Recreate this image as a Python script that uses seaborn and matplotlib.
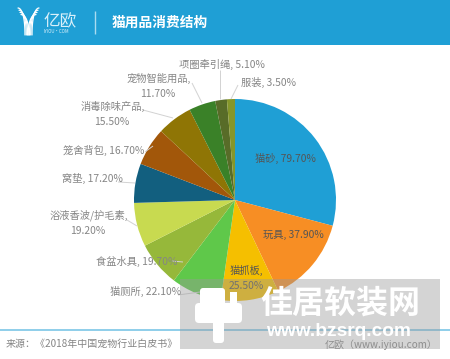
import numpy as np
import pandas as pd
import matplotlib.pyplot as plt
import matplotlib.patches as mp
import seaborn as sns

sns.set_theme(style="white")
plt.rcParams['font.family'] = ['Noto Sans CJK SC', 'DejaVu Sans']

# data
categories = ["猫砂", "玩具", "猫抓板", "猫厕所", "食盆水具", "浴液香波/护毛素", "窝垫", "笼舍背包", "消毒除味产品", "宠物智能用品", "项圈牵引绳", "服装"]
values = [79.7, 37.9, 25.5, 22.1, 19.7, 19.2, 17.2, 16.7, 15.5, 11.7, 5.1, 3.5]
colors = ["#1f9fd5", "#f78e24", "#f5bf00", "#5fc84a", "#96b83a", "#c8da50", "#125f7f", "#a2570a", "#8f7505", "#3a8128", "#586c28", "#85962a"]
title = "猫用品消费结构"
source = "来源：《2018年中国宠物行业白皮书》"
credit = "亿欧（www.iyiou.com）"

df = pd.DataFrame({"cat": categories, "val": values})
H = 359

fig = plt.figure(figsize=(4.5, 3.59), dpi=100, facecolor="white")
ax = fig.add_axes([0, 0, 1, 1])

#pie
ax.pie(df["val"], colors=sns.color_palette(colors), startangle=90, counterclock=False,
       center=(235, H - 200), radius=101, wedgeprops={"linewidth": 0}, frame=False)
ax.set_xlim(0, 450)
ax.set_ylim(0, H)
ax.set_aspect("equal")
ax.axis("off")

def txt(x, y, s, size=7.4, color="#858585", ha="left", **kw):
    ax.text(x, H - y, s, fontsize=size, color=color, ha=ha, va="center", zorder=5, **kw)

def line(xs, ys, color="#d2d2d2", lw=0.7, z=3):
    ax.plot(xs, [H - y for y in ys], color=color, lw=lw, zorder=z, solid_capstyle="butt")

#header
ax.add_patch(mp.Rectangle((0, H - 45), 450, 45, color="#1f9fd5", lw=0, zorder=1))
line([94.5, 94.5], [11, 34], color="#a9dcf0", lw=1)
txt(112, 22.5, title, size=9.9, color="white", fontweight="bold")
txt(43, 22, "亿欧", size=12, color="#d9f0fa")
txt(43.5, 31.5, "IYIOU·COM", size=3.2, color="#d9f0fa")
# logo
t = np.linspace(0, 1, 20)
for i in range(4):
    ys = 8 + i * 2.2
    ye = 35
    xl = 18 + i * 1.0 + (7 + i * 0.3) * np.sin(t * np.pi / 2)
    xr = 39 - i * 1.0 - (7 + i * 0.3) * np.sin(t * np.pi / 2)
    y = ys + (ye - ys) * t ** 2
    ax.plot(xl, H - y, color="white", lw=0.9, zorder=4)
    ax.plot(xr, H - y, color="white", lw=0.9, zorder=4)

# leader lines
line([220, 220], [99, 70])
line([202, 192], [103, 83])
line([231, 238], [99, 85])
line([173, 143], [118, 110])
line([145, 153], [152, 146])
line([118, 135], [182, 183])
line([127, 137], [220, 226])
line([172, 183], [261, 262])
line([178, 200], [295, 292])

# outer labels
txt(179, 64, "项圈牵引绳, 5.10%")
txt(241, 82, "服装, 3.50%")
txt(127, 78, "宠物智能用品,")
txt(158, 94, "11.70%", ha="center")
txt(81, 106, "消毒除味产品,")
txt(112, 122, "15.50%", ha="center")
txt(63, 150, "笼舍背包, 16.70%")
txt(62, 178, "窝垫, 17.20%")
txt(50, 215, "浴液香波/护毛素,")
txt(88, 231, "19.20%", ha="center")
txt(96, 261, "食盆水具, 19.70%")
txt(110, 291, "猫厕所, 22.10%")

# inner labels
txt(255, 158, "猫砂, 79.70%", color="#555555")
txt(263, 235, "玩具, 37.90%", color="#555555")
txt(230, 270, "猫抓板,", color="#555555")
txt(246, 286, "25.50%", ha="center", color="#555555")

# footer
line([0, 450], [330, 330], color="#7cc6e6", lw=1.2)
txt(6, 344, source, size=7.2)
txt(438, 345, credit, size=7.2, ha="right")

# watermark
ax.add_patch(mp.Rectangle((180, H - 349), 260, 70, color="#999999", alpha=0.42, lw=0, zorder=6))
ax.add_patch(mp.FancyBboxPatch((195, H - 323), 47, 20, boxstyle="round,pad=0,rounding_size=4", color="white", lw=0, zorder=7))
ax.add_patch(mp.FancyBboxPatch((213, H - 343), 11, 24, boxstyle="round,pad=0,rounding_size=3", color="white", lw=0, zorder=7))
ax.add_patch(mp.FancyBboxPatch((200, H - 308), 25, 20, boxstyle="round,pad=0,rounding_size=3", color="white", lw=0, zorder=7))
ax.add_patch(mp.Rectangle((230, H - 308), 7, 16, color="white", lw=0, zorder=7))
ax.text(340, H - 304, "佳居软装网", fontsize=23, color="white", fontweight="bold", ha="center", va="center", zorder=7)
ax.text(339, H - 331, "www.bzsrq.com", fontsize=13.8, color="white", fontweight="bold", ha="center", va="center", zorder=7, family="Liberation Sans")

fig.savefig("out.png", dpi=100)
